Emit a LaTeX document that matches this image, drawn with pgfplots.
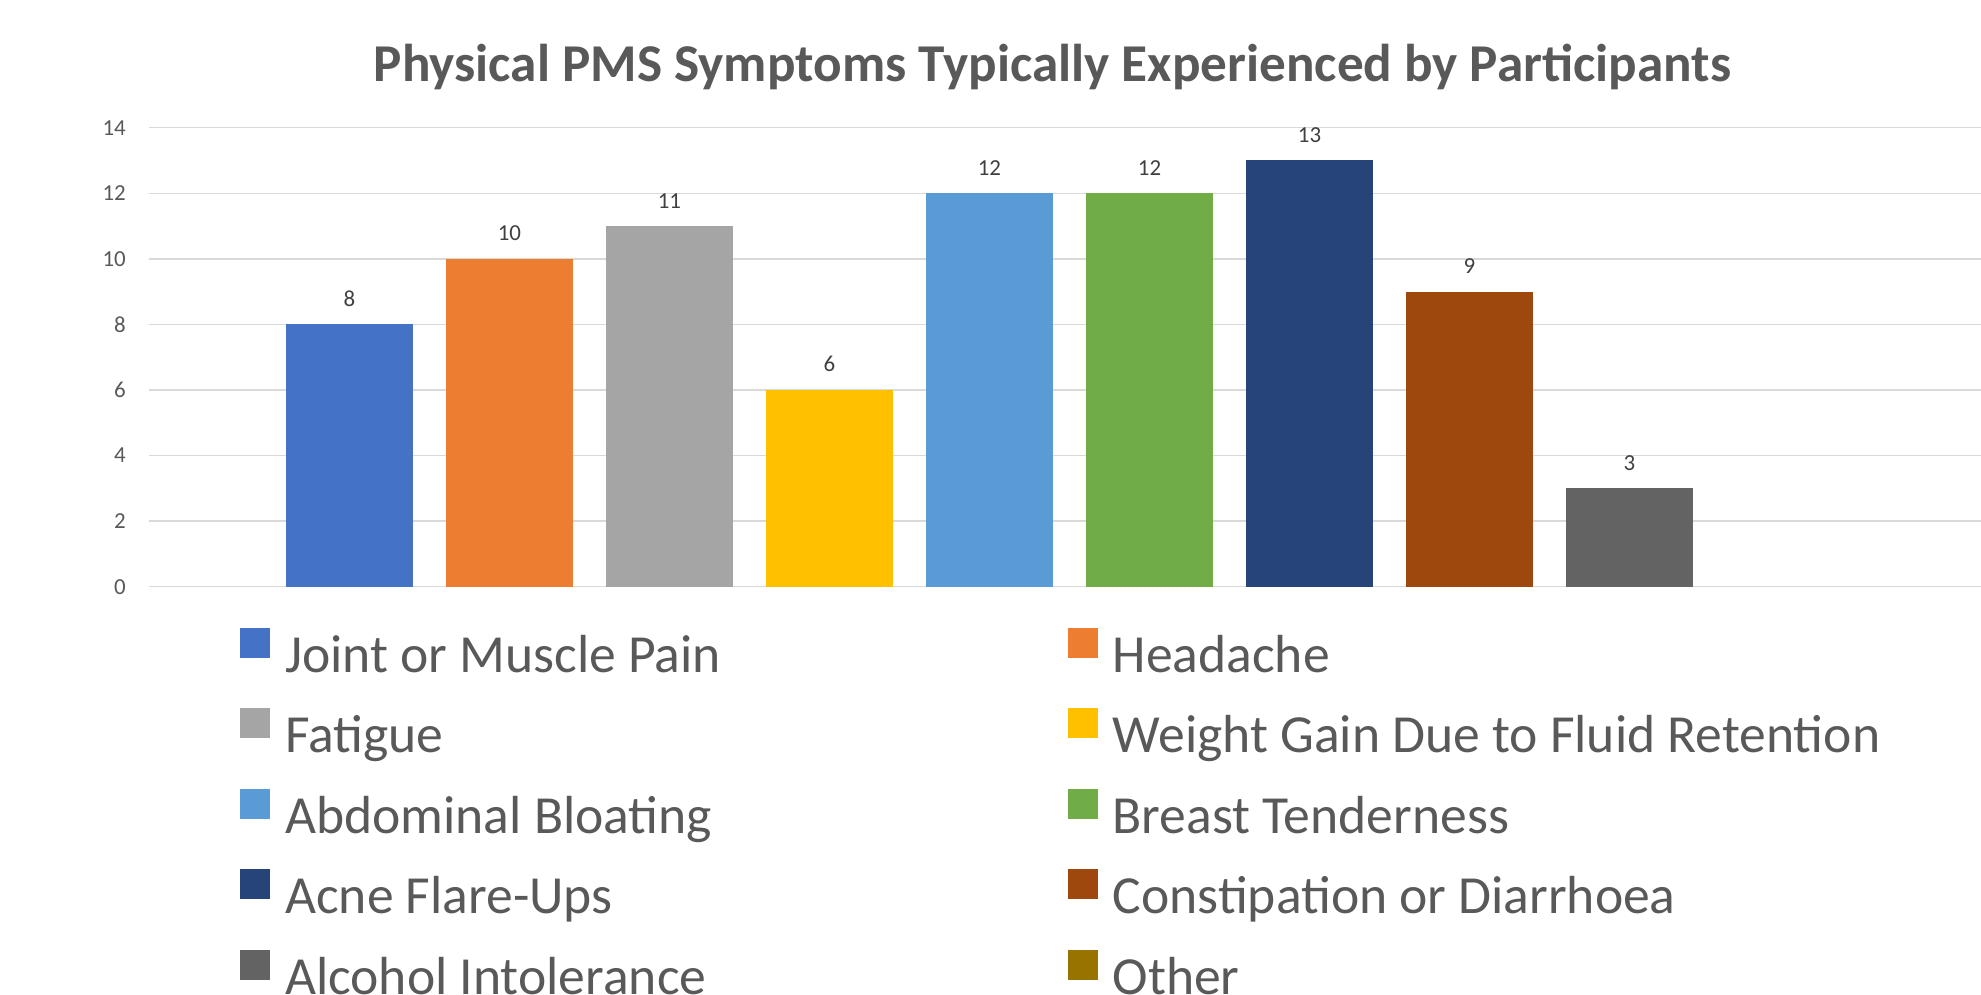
\documentclass[border=0pt]{standalone}
\usepackage{fontspec}
\setmainfont{Carlito}
\usepackage{pgfplots}
\pgfplotsset{compat=1.18}
\definecolor{c1}{HTML}{4472C4}
\definecolor{c2}{HTML}{ED7D31}
\definecolor{c3}{HTML}{A5A5A5}
\definecolor{c4}{HTML}{FFC000}
\definecolor{c5}{HTML}{5B9BD5}
\definecolor{c6}{HTML}{70AD47}
\definecolor{c7}{HTML}{264478}
\definecolor{c8}{HTML}{9E480E}
\definecolor{c9}{HTML}{636363}
\definecolor{c10}{HTML}{997300}
\definecolor{txt}{HTML}{595959}
\definecolor{lbl}{HTML}{404040}
\definecolor{gridc}{HTML}{D9D9D9}
\newcommand\ls[1]{\rule[-20bp]{0pt}{80.5bp}#1}
\newcommand\lw[1]{\rule[-20bp]{0pt}{80.5bp}\makebox[782.5bp][l]{#1}}
\pgfplotsset{
  sq/.style={legend image code/.code={\fill[#1] (0bp,-15bp) rectangle (30bp,15bp); \path (45bp,0bp);}},
  mybar/.style={ybar, bar width=127bp, bar shift=0pt, fill=#1, draw=none, sq=#1},
}
\begin{document}
\begin{tikzpicture}
\useasboundingbox (0,0) rectangle (1981bp,995bp);
\node[anchor=base, font=\bfseries\fontsize{53.4}{53.4}\selectfont, text=txt, inner sep=0pt] at (1052.5bp,913bp) {Physical PMS Symptoms Typically Experienced by Participants};
\begin{axis}[
  at={(149bp,408.3bp)}, anchor=south west,
  scale only axis, width=1832bp, height=459bp,
  xmin=-1.253, xmax=10.197, ymin=0, ymax=14,
  ytick={0,2,...,14}, xtick=\empty,
  ymajorgrids, grid style={draw=gridc, line width=1.5bp},
  axis line style={draw=none}, major tick length=0pt,
  /pgf/number format/assume math mode=true,
  yticklabel style={font=\fontsize{23}{23}\selectfont, text=txt, inner sep=0pt, anchor=east, xshift=-23bp},
  nodes near coords style={font=\fontsize{23}{23}\selectfont, text=lbl, inner sep=0pt, anchor=south, yshift=17.7bp},
  legend columns=2, legend cell align=left,
  legend style={at={(axis description cs:0.04967,-0.054)}, anchor=north west, draw=none, fill=none,
    inner sep=0pt, row sep=18.5bp, column sep=0pt, font=\fontsize{53.8}{53.8}\selectfont, text=txt,
    nodes={inner sep=0pt}},
]
\addplot[mybar=c1, nodes near coords] coordinates {(0,8)};
\addlegendentry{\lw{Joint or Muscle Pain}}
\addplot[mybar=c2, nodes near coords] coordinates {(1,10)};
\addlegendentry{\ls{Headache}}
\addplot[mybar=c3, nodes near coords] coordinates {(2,11)};
\addlegendentry{\lw{Fatigue}}
\addplot[mybar=c4, nodes near coords] coordinates {(3,6)};
\addlegendentry{\ls{Weight Gain Due to Fluid Retention}}
\addplot[mybar=c5, nodes near coords] coordinates {(4,12)};
\addlegendentry{\lw{Abdominal Bloating}}
\addplot[mybar=c6, nodes near coords] coordinates {(5,12)};
\addlegendentry{\ls{Breast Tenderness}}
\addplot[mybar=c7, nodes near coords] coordinates {(6,13)};
\addlegendentry{\lw{Acne Flare-Ups}}
\addplot[mybar=c8, nodes near coords] coordinates {(7,9)};
\addlegendentry{\ls{Constipation or Diarrhoea}}
\addplot[mybar=c9, nodes near coords] coordinates {(8,3)};
\addlegendentry{\lw{Alcohol Intolerance}}
\addplot[mybar=c10, fill=none] coordinates {(9,0)};
\addlegendentry{\ls{Other}}
\end{axis}
\end{tikzpicture}
\end{document}
